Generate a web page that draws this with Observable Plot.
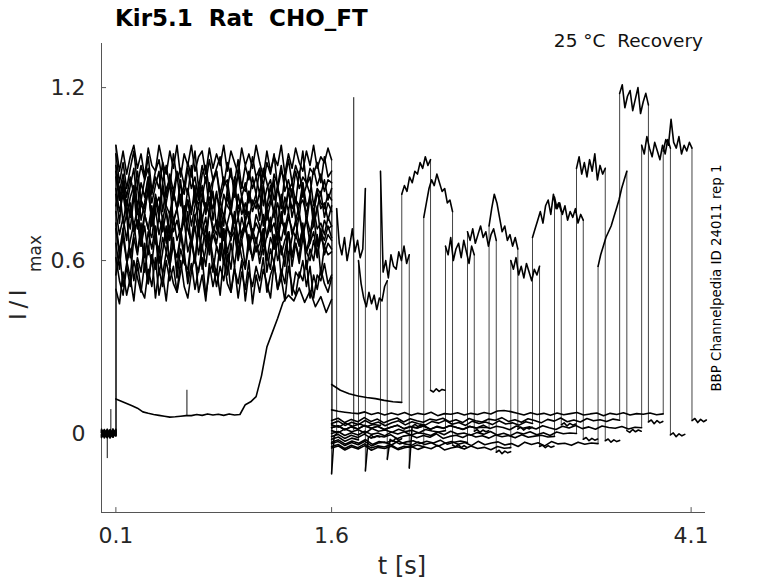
<!DOCTYPE html>
<html><head><meta charset="utf-8">
<script src="https://cdn.jsdelivr.net/npm/d3@7"></script>
<script src="https://cdn.jsdelivr.net/npm/@observablehq/plot@0.6"></script>
<style>
body{margin:0;background:#fff;}
#wrap{width:778px;height:583px;}
</style></head><body><div id="wrap"></div>
<script>
// ---- axes ----
const xDomain = [0, 4.2];
const yDomain = [-0.274, 1.353];
const xTicks = [0.1, 1.6, 4.1];
const yTicks = [0, 0.6, 1.2];

// ---- protocol timing (s) ----
const stepOn = 0.1, stepOff = 1.6;
const pulse2Start = [1.635, 1.787, 1.940, 2.088, 2.241, 2.392, 2.545, 2.695, 2.846, 2.997, 3.150, 3.303, 3.453, 3.603, 3.756, 3.906];
const pulse2Dur = 0.2, tailDur = 0.1;

// ---- sweep values ----
// holding before the step (thousandths)
const baseline = [
 "5 -10 15 -5 10 0", "-8 12 -15 6 -3 10", "12 -5 8 -14 4 -6", "-3 9 -12 14 -7 5",
 "10 -15 3 -8 16 -2", "-12 6 -4 11 -9 8", "4 -7 13 -11 2 -5", "-6 14 -9 3 -13 7",
 "8 -3 -12 10 -6 12", "-14 5 9 -7 11 -4", "2 -11 7 -2 -10 15", "15 -6 -3 12 -8 3",
 "-5 10 -13 5 7 -9", "9 -12 4 -6 13 -1", "-10 3 11 -15 6 -7", "6 -8 -5 9 -12 4"];
// first pulse 0.1-1.6 s (hundredths)
const pulse1 = [
 "66 57 71 60 54 68 62 73 56 65 59 70 55 63 72 58 66 57 69 61 54 67 59 74 57 64 70 56 65 60 71 55 66 58 68 61 57 69 60 65 62 71 56 64 59 68 54 63 70 58 66 61 73 57 64 60 69 55 65 62 63",
 "50 45 56 48 54 46 59 50 47 57 51 61 48 55 46 58 52 49 60 51 47 56 62 49 55 46 59 51 57 48 61 52 49 58 47 56 50 60 45 55 49 57 52 47 59 50 54 46 58 51 48 56 53 60 47 55 50 57 52 49 54",
 "55 63 51 59 64 53 61 56 66 52 62 57 65 55 63 58 68 54 64 59 57 67 60 56 65 58 69 61 55 66 59 64 57 70 60 67 58 65 61 68 59 66 62 57 69 60 65 58 70 62 66 59 68 63 60 67 61 71 62 66 64",
 "12 11.2 10.4 9.6 8.8 7.5 7 6.6 6.3 6 5.7 5.8 6 6.2 6.2 6.6 6.3 6.8 6.4 6.7 6.3 6.8 6.4 6.6 10 11 12.8 20 30 35 40 45.5 48 46 50.5 45.5 49.5 44 47.5 42 46.5",
 "83 73 87 76 71 82 86 74 80 89 72 81 75 85 77 70 84 78 88 73 81 76 86 71 82 77 87 74 83 78 72 85 76 89 75 82 73 84 77 81 78 86 74 80 88 72 83 77 85 75 81 79 87 73 82 76 84 78 80 74 79",
 "73 63 71 76 61 69 74 65 72 62 78 66 64 73 68 60 75 67 71 63 77 65 72 62 70 75 64 71 66 74 61 72 67 76 63 70 73 65 71 66 72 62 69 75 64 70 67 73 61 68 74 66 71 63 69 76 65 70 67 72 68",
 "89 81 85 77 80 72 78 69 76 71 79 68 75 70 77 67 74 78 69 76 71 66 75 79 70 68 77 72 69 76 67 73 78 70 75 68 74 77 69 73 70 76 68 72 78 67 74 71 77 69 73 76 68 75 70 72 79 68 74 71 72",
 "79 85 73 81 75 84 71 80 76 86 72 79 82 74 80 87 73 78 83 75 81 72 79 85 74 80 76 84 71 81 75 82 77 73 83 76 80 74 81 78 84 72 79 86 75 80 73 82 77 85 74 79 81 76 83 72 78 84 75 80 77",
 "61 53 48 58 51 60 54 49 59 52 62 47 57 51 60 53 58 49 56 63 52 59 50 57 61 48 56 59 51 58 53 62 49 57 52 60 46 56 51 58 53 61 49 55 59 50 57 52 63 48 56 54 60 51 58 47 55 53 59 52 55",
 "91 81 88 79 86 92 78 87 82 89 80 86 91 77 85 88 81 90 79 87 83 93 80 86 82 89 78 87 91 81 86 88 79 85 90 82 87 80 89 83 92 79 85 88 81 86 78 90 84 87 80 91 82 86 89 79 85 83 88 81 85",
 "77 69 75 67 79 70 74 65 76 71 68 78 69 75 66 77 70 74 68 79 71 67 76 69 75 65 78 70 74 68 76 71 69 77 67 75 70 74 68 76 72 66 78 70 73 67 77 69 75 71 68 76 70 74 66 78 71 73 69 75 72",
 "97 87 94 85 92 98 86 93 88 96 84 91 95 87 93 85 97 88 92 86 94 89 98 85 93 87 95 88 92 96 86 94 89 87 95 85 93 88 96 89 92 86 94 90 97 85 91 88 95 87 93 89 98 86 92 90 94 87 96 89 91",
 "93 84 90 82 89 83 91 81 88 92 83 89 85 94 82 90 84 91 86 83 92 85 89 81 90 93 84 88 91 83 89 85 92 82 90 86 84 91 85 89 83 92 87 81 90 86 93 84 88 82 91 85 89 87 83 92 86 90 84 88 87",
 "100 91 98 90 96 100 92 97 89 99 93 91 100 94 90 98 92 100 89 97 93 100 91 96 98 90 99 92 97 93 100 91 98 94 90 99 93 97 92 100 94 89 98 91 96 93 100 90 97 92 99 94 91 98 93 100 92 96 94 99 95",
 "85 77 83 75 82 86 76 81 78 84 74 83 77 87 79 76 84 78 82 75 85 77 83 79 86 76 82 78 84 75 83 79 77 85 78 82 76 84 79 83 74 86 78 81 77 85 80 76 84 78 82 75 87 79 81 77 84 80 78 83 81",
 "71 62 68 60 67 73 63 69 61 70 64 72 59 68 63 71 65 61 69 74 63 68 60 70 64 72 62 69 65 61 71 63 68 70 62 67 72 64 69 63 66 71 60 68 64 73 62 67 70 61 69 65 72 63 66 70 62 68 65 69 67"];
// recovery interval 1.6 s -> second pulse (thousandths)
const recovery = [
 "-140 -10 0",
 "-20 -12 -27 -16 -22",
 "30 22 36 25 33 24 31 28",
 "170 150 138 130 125 121 115 110 108",
 "-45 -38 -52 -41 -49 -36 -50 -43 -47 -39 -53 -44 -48 -40 -46",
 "10 3 16 6 13 1 17 8 12 4 15 7 11 2 14 9 5 10",
 "-30 -22 -37 -26 -34 -21 -38 -28 -32 -24 -36 -29 -25 -35 -27 -33 -23 -37 -30 -26 -31",
 "20 27 13 23 16 28 18 25 14 22 29 17 24 19 26 15 23 18 27 21 14 25 19 22 20",
 "-50 -43 -57 -46 -54 -42 -58 -48 -52 -44 -56 -49 -45 -55 -47 -53 -41 -57 -50 -46 -54 -43 -52 -48 -56 -45 -51 -49",
 "35 43 28 39 31 45 33 40 27 37 44 30 41 34 29 42 36 46 32 38 28 43 35 40 31 44 33 37 29 41 35",
 "-10 -3 -17 -6 -14 -2 -16 -8 -12 -4 -18 -9 -5 -15 -7 -13 -1 -17 -10 -6 -14 -3 -12 -8 -16 -5 -11 -7 -15 -4 -13 -9 -6 -12 -10",
 "0 7 -7 3 -5 8 -3 2 -8 5 -2 6 -6 3 -1 -7 5 -4 8 -2 2 -6 4 -3 7 -5 1 -8 4 -2 6 -4 3 -7 5 -1 2 0",
 "-35 -28 -42 -31 -39 -27 -43 -33 -30 -40 -26 -36 -41 -29 -38 -32 -44 -34 -28 -37 -31 -42 -27 -39 -33 -29 -40 -35 -45 -30 -38 -32 -43 -28 -36 -34 -41 -30 -37 -33 -35",
 "45 53 38 49 41 55 42 50 37 47 54 40 51 44 39 50 46 53 41 48 38 52 44 40 50 46 55 42 48 39 51 45 37 49 43 54 41 47 40 52 44 48 42 50 46",
 "20 27 13 24 16 28 18 25 14 22 29 16 24 19 27 15 25 18 28 21 15 24 19 29 17 25 21 13 26 18 23 16 27 20 14 25 19 28 17 23 15 26 21 18 24 16 22 20",
 "82 77 74 71 69 75 66 72 64 71 65 73 63 70 66 74 62 69 67 72 64 70 66 73 68 78 80 76 70 64 72 66 70 63 71 65 69 73 64 68 71 62 70 66 72 64 69 67 71 65 68"];
// second pulse (hundredths)
const pulse2 = [
 "78 66 62 68 60 65 71 63 67 61 64 85",
 "60 52 47 44 49 45 48 43 47 46 51 53",
 "91 56 60 54 62 58 57 63 60 65 59 62",
 "83 86 84 89 87 91 90 94 92 96 93 95",
 "75 80 85 88 86 90 87 84 85 80 81 77",
 "65 62 68 60 64 66 61 67 63 59 65 62",
 "70 67 71 66 69 72 68 70 65 69 71 67",
 "72 78 83 80 75 70 72 67 69 65 68 64",
 "60 57 61 55 58 54 59 56 53 57 55 58",
 "68 71 74 77 73 79 81 76 83 78 80 77",
 "82 78 80 76 79 74 77 75 78 73 76 74",
 "92 96 90 94 89 95 91 97 88 93 90 92",
 "58 62 65 68 70 72 75 78 81 85 88 91",
 "118 121 113 117 119 112 116 120 111 115 118 114",
 "100 97 103 99 96 101 98 95 100 97 102 99",
 "98 102 100 109 101 99 103 97 100 98 101 99"];
// after the second pulse (thousandths)
const tail = [
 "-130 -15 -6 -14 -9 -12", "-90 -20 -27 -16 -24 -18", "-120 25 32 24 30 27", "150 144 155 146 153 150",
 "-40 -46 -38 -49 -42 -48", "8 14 4 12 6 10", "-65 -58 -70 -61 -67 -63", "15 22 12 20 16 22",
 "-45 -40 -49 -42 -48 -44", "30 37 26 35 29 33", "-20 -14 -25 -17 -23 -19", "-25 -19 -30 -22 -28 -24",
 "10 4 14 6 12 8", "40 47 34 45 37 42", "-5 2 -11 -1 -8 -3", "45 52 38 49 41 47"];
// brief spikes
const spikeT  = [0.040, 0.065, 0.594, 1.754];
const spikeLo = [-0.087, 0.000, 0.060, 0.010];
const spikeHi = [0.000, 0.083, 0.150, 1.165];

// ---- build tables: each segment is its own line, steps are thin rules ----
const parse = (s, k) => s.trim().split(/\s+/).map(v => +v / k);
const rows = [];
const steps = [];
pulse2Start.forEach((s, k) => {
  const segs = [
    [0, stepOn, parse(baseline[k], 1000)],
    [stepOn, stepOff, parse(pulse1[k], 100)],
    [stepOff, s, parse(recovery[k], 1000)],
    [s, s + pulse2Dur, parse(pulse2[k], 100)],
    [s + pulse2Dur, s + pulse2Dur + tailDur, parse(tail[k], 1000)]
  ];
  segs.forEach(([t0, t1, vals], j) => {
    const n = vals.length;
    vals.forEach((y, i) => rows.push({key: k * 10 + j, t: t0 + (t1 - t0) * i / (n - 1), y}));
    if (j > 0) {
      const prev = segs[j - 1][2];
      steps.push({t: t0, y1: prev[prev.length - 1], y2: vals[0]});
    }
  });
});
const spikes = spikeT.map((t, i) => ({t, lo: spikeLo[i], hi: spikeHi[i]}));

const ff = "DejaVu Sans";
const chart = Plot.plot({
  width: 778, height: 583,
  marginLeft: 101, marginRight: 73, marginTop: 43, marginBottom: 71,
  style: {fontFamily: ff, fontSize: "22px", color: "#262626", background: "white"},
  x: {domain: xDomain, label: null},
  y: {domain: yDomain, label: null},
  marks: [
    Plot.axisX(xTicks, {tickFormat: d => String(d), tickSize: 0, tickPadding: 15, fontSize: 22, label: null}),
    Plot.axisY(yTicks, {tickFormat: d => String(d), tickSize: 0, tickPadding: 16, fontSize: 22, label: null}),
    Plot.ruleX([xDomain[0]], {stroke: "#555", strokeWidth: 1}),
    Plot.ruleY([yDomain[0]], {stroke: "#555", strokeWidth: 1}),
    Plot.ruleY(yTicks, {x1: xDomain[0], x2: xDomain[0] + 0.035, stroke: "#555"}),
    Plot.ruleX(xTicks, {y1: yDomain[0], y2: yDomain[0] + 0.017, stroke: "#555"}),
    Plot.ruleX(steps, {x: "t", y1: "y1", y2: "y2", stroke: "#444", strokeWidth: 1}),
    Plot.ruleX(spikes, {x: "t", y1: "lo", y2: "hi", stroke: "#111", strokeWidth: 1}),
    Plot.line(rows, {x: "t", y: "y", z: "key", stroke: "black", strokeWidth: 1.6})
  ]
});
document.getElementById("wrap").appendChild(chart);

const svg = d3.select(chart);
svg.append("text").attr("x", 115).attr("y", 26).attr("text-anchor", "start").attr("font-family", ff).attr("font-weight", "bold")
  .attr("font-size", 23).attr("fill", "#000").style("white-space", "pre").text("Kir5.1  Rat  CHO_FT");
svg.append("text").attr("x", 703).attr("y", 47).attr("text-anchor", "end").attr("font-family", ff)
  .attr("font-size", 18.5).attr("fill", "#111").style("white-space", "pre").text("25 °C  Recovery");
svg.append("text").attr("transform", "translate(721,278) rotate(-90)").attr("text-anchor", "middle")
  .attr("font-family", ff).attr("font-size", 13.4).attr("fill", "#000").text("BBP Channelpedia ID 24011 rep 1");
svg.append("text").attr("transform", "translate(26,320) rotate(-90)").attr("text-anchor", "start").attr("font-family", ff)
  .attr("font-size", 23).attr("fill", "#262626").text("I\u2009/\u2009I");
svg.append("text").attr("transform", "translate(41,272) rotate(-90)").attr("text-anchor", "start").attr("font-family", ff)
  .attr("font-size", 17).attr("fill", "#262626").text("max");
svg.append("text").attr("x", 402).attr("y", 574).attr("text-anchor", "middle").attr("font-family", ff)
  .attr("font-size", 24).attr("fill", "#262626").text("t [s]");
</script></body></html>
